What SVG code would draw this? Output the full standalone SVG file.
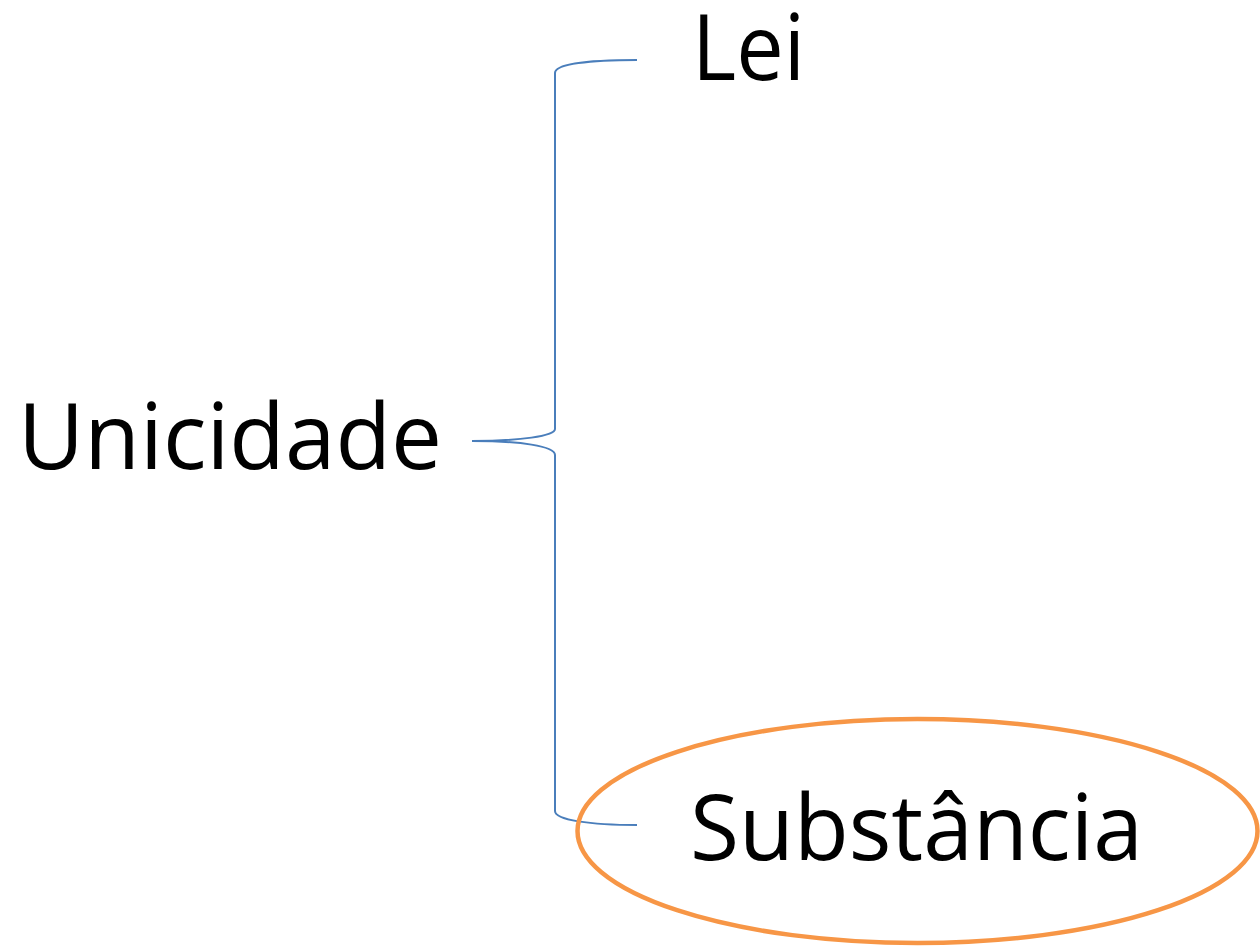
<svg xmlns="http://www.w3.org/2000/svg" width="1260" height="947" viewBox="0 0 1260 947">
<style>
.t{font-family:"Open Sans","Liberation Sans",sans-serif;font-size:91px;fill:#000}
.c{fill:none;stroke:#4a7ebb;stroke-width:2}
</style>
<rect width="1260" height="947" fill="#fff"/>
<g id="connectors">
<path class="c" d="M472,441 C520,441 555,436 555,429 L555,73 C555,64 590,60 637,60"/>
<path class="c" d="M472,441 C520,441 555,446 555,455 L555,811 C555,820 590,825 637,825"/>
</g>
<g id="node-unicidade"><text class="t" x="18" y="469" textLength="424" lengthAdjust="spacingAndGlyphs">Unicidade</text></g>
<g id="node-lei"><text class="t" x="692" y="80" textLength="113" lengthAdjust="spacingAndGlyphs">Lei</text></g>
<g id="node-substancia">
<ellipse cx="917.5" cy="831" rx="340" ry="112" fill="none" stroke="#f79646" stroke-width="4.5"/>
<text class="t" x="690" y="860" textLength="453" lengthAdjust="spacingAndGlyphs">Substância</text>
</g>
</svg>
